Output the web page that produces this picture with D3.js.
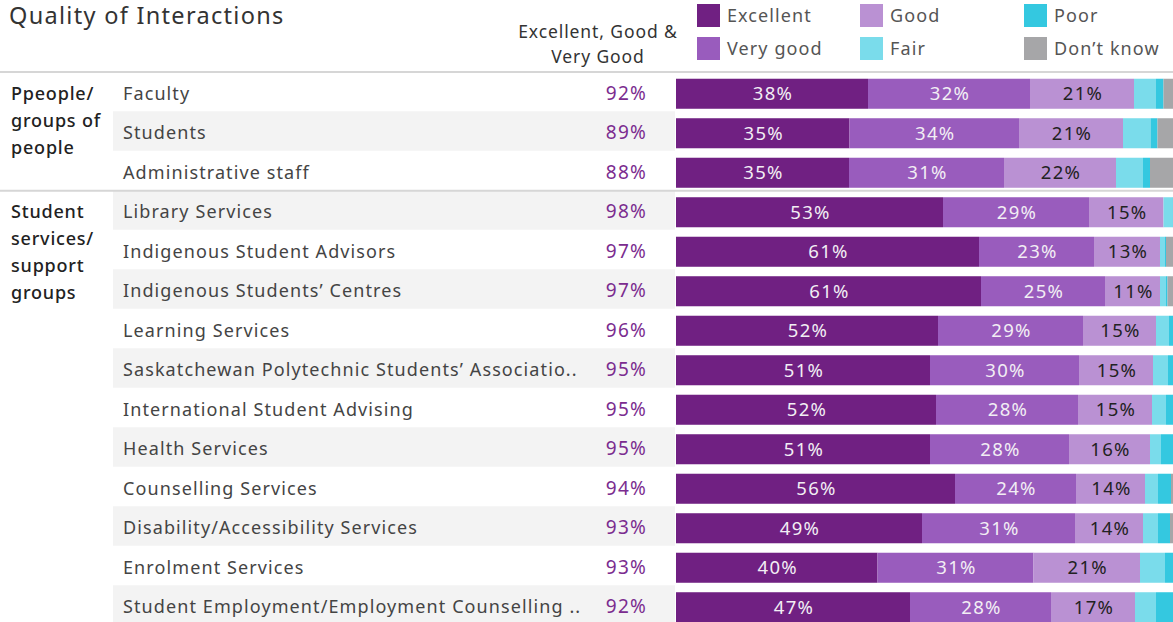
<!DOCTYPE html>
<html>
<head>
<meta charset="utf-8">
<script src="https://cdn.jsdelivr.net/npm/d3@7"></script>
<style>
  body { margin: 0; background: #fff; }
  svg { display: block; font-family: "Noto Sans", sans-serif; }
</style>
</head>
<body>
<div id="chart"></div>
<script>
// rows of the table, top to bottom
const rowNames = [
  "Faculty", "Students", "Administrative staff",
  "Library Services", "Indigenous Student Advisors", "Indigenous Students\u2019 Centres",
  "Learning Services", "Saskatchewan Polytechnic Students\u2019 Associatio..",
  "International Student Advising", "Health Services", "Counselling Services",
  "Disability/Accessibility Services", "Enrolment Services",
  "Student Employment/Employment Counselling .."
];
const groupLines = [["Ppeople/", "groups of", "people"], ["Student", "services/", "support", "groups"]];
const groupSizes = [3, 11];

// share of answers (%) per rating
const excellent = [38.4, 34.7, 34.6, 53.4, 60.6, 61.0, 52.4, 50.8, 52.0, 50.8, 55.8, 49.2, 40.3, 46.8];
const veryGood  = [32.4, 33.9, 31.0, 29.2, 23.0, 24.8, 29.0, 29.8, 28.4, 27.8, 24.2, 30.6, 31.2, 28.2];
const good      = [20.8, 20.8, 22.4, 14.9, 13.2, 11.0, 14.6, 14.8, 14.8, 16.2, 13.8, 13.6, 21.3, 16.8];
const fair      = [4.4, 5.5, 5.4, 1.8, 1.0, 1.2, 2.6, 3.0, 2.8, 2.2, 2.6, 3.0, 5.0, 4.2];
const poor      = [1.5, 1.4, 1.4, 0.5, 0.2, 0.3, 1.2, 1.4, 2.0, 3.0, 2.6, 2.4, 2.2, 4.0];
const dontKnow  = [2.5, 3.7, 5.2, 0.2, 2.0, 1.7, 0.2, 0.2, 0.0, 0.0, 1.0, 1.2, 0.0, 0.0];
// "Excellent, Good & Very Good" column
const topBox = [92, 89, 88, 98, 97, 97, 96, 95, 95, 95, 94, 93, 93, 92];

const ratings = ["Excellent", "Very good", "Good", "Fair", "Poor", "Don\u2019t know"];
const colors = ["#702082", "#995cbd", "#ba91d3", "#7adceb", "#34c8e0", "#a6a6a8"];

const width = 1173, height = 622;

const table = rowNames.map((name, i) => ({
  name: name,
  "Excellent": excellent[i],
  "Very good": veryGood[i],
  "Good": good[i],
  "Fair": fair[i],
  "Poor": poor[i],
  "Don\u2019t know": dontKnow[i],
  top: topBox[i]
}));

const svg = d3.select("#chart")
  .append("svg")
    .attr("width", width)
    .attr("height", height)
    .attr("viewBox", `0 0 ${width} ${height}`);

const xScale = d3.scaleLinear().domain([0, 100]).range([676, 1176]);
const yScale = d3.scaleBand()
  .domain(rowNames)
  .range([74, 74 + rowNames.length * 39.5])
  .paddingInner(0.24)
  .paddingOuter(0.12);
const colorScale = d3.scaleOrdinal().domain(ratings).range(colors);
const step = yScale.step();

// alternate row shading, only behind the labels
svg.append("g")
  .selectAll("rect")
  .data(rowNames.filter((d, i) => i % 2 === 1))
  .join("rect")
    .attr("x", 113)
    .attr("y", d => yScale(d) - 7)
    .attr("width", 562)
    .attr("height", step)
    .attr("fill", "#f3f3f3");

// title
svg.append("text")
  .attr("x", 9)
  .attr("y", 24)
  .attr("font-size", 23.5)
  .attr("letter-spacing", 1.3)
  .attr("fill", "#333")
  .text("Quality of Interactions");

// column header
const header = svg.append("text")
  .attr("text-anchor", "middle")
  .attr("font-size", 17.5)
  .attr("letter-spacing", 0.9)
  .attr("fill", "#333");
header.append("tspan").attr("x", 598).attr("y", 38).text("Excellent, Good &");
header.append("tspan").attr("x", 598).attr("y", 63).text("Very Good");

// legend
const legendCols = [697, 860, 1024];
const legend = svg.append("g")
  .selectAll("g")
  .data(ratings)
  .join("g")
    .attr("transform", (d, i) => `translate(${legendCols[Math.floor(i / 2)]}, ${i % 2 === 0 ? 4 : 37})`);
legend.append("rect")
  .attr("width", 23)
  .attr("height", 23)
  .attr("fill", d => colorScale(d));
legend.append("text")
  .attr("x", 30)
  .attr("y", 18)
  .attr("font-size", 18)
  .attr("letter-spacing", 1.1)
  .attr("fill", "#555")
  .text(d => d);

// separators
svg.append("line")
  .attr("x1", 0).attr("x2", width)
  .attr("y1", 72).attr("y2", 72)
  .attr("stroke", "#d6d6d6")
  .attr("stroke-width", 2);
svg.append("line")
  .attr("x1", 0).attr("x2", width)
  .attr("y1", yScale(rowNames[3]) - 6.5).attr("y2", yScale(rowNames[3]) - 6.5)
  .attr("stroke", "#d6d6d6")
  .attr("stroke-width", 2);

// group labels
let start = 0;
groupSizes.forEach((size, g) => {
  const label = svg.append("text")
    .attr("font-size", 18)
    .attr("letter-spacing", 0.8)
    .attr("font-weight", 500)
    .attr("fill", "#222");
  groupLines[g].forEach((line, j) => {
    label.append("tspan")
      .attr("x", 11)
      .attr("y", yScale(rowNames[start]) + 21 + j * 27)
      .text(line);
  });
  start += size;
});

// row labels
svg.append("g")
  .selectAll("text")
  .data(table)
  .join("text")
    .attr("x", 123)
    .attr("y", d => yScale(d.name) + yScale.bandwidth() / 2 + 6)
    .attr("font-size", 18)
    .attr("letter-spacing", 1.1)
    .attr("fill", "#444")
    .text(d => d.name);

// top box percentages
svg.append("g")
  .selectAll("text")
  .data(table)
  .join("text")
    .attr("x", 647)
    .attr("y", d => yScale(d.name) + yScale.bandwidth() / 2 + 6)
    .attr("text-anchor", "end")
    .attr("font-size", 19)
    .attr("letter-spacing", 1.2)
    .attr("fill", "#7b2c8f")
    .text(d => d.top + "%");

// stacked bars
const stacked = d3.stack().keys(ratings)(table);

const series = svg.append("g")
  .selectAll("g")
  .data(stacked)
  .join("g")
    .attr("fill", d => colorScale(d.key));

series.selectAll("rect")
  .data(d => d)
  .join("rect")
    .attr("x", d => xScale(d[0]))
    .attr("y", d => yScale(d.data.name))
    .attr("width", d => xScale(d[1]) - xScale(d[0]))
    .attr("height", yScale.bandwidth());

// value labels on the three biggest segments
const labelled = stacked.filter(s => ["Excellent", "Very good", "Good"].includes(s.key));
svg.append("g")
  .selectAll("g")
  .data(labelled)
  .join("g")
  .selectAll("text")
  .data(s => s.map(d => ({ key: s.key, d: d })))
  .join("text")
    .attr("x", p => (xScale(p.d[0]) + xScale(p.d[1])) / 2 + 1)
    .attr("y", p => yScale(p.d.data.name) + yScale.bandwidth() / 2 + 6.5)
    .attr("text-anchor", "middle")
    .attr("font-size", 18.5)
    .attr("letter-spacing", 1.3)
    .attr("fill", p => p.key === "Good" ? "#222" : "#f2eef4")
    .text(p => Math.round(p.d[1] - p.d[0]) + "%");
</script>
</body>
</html>
